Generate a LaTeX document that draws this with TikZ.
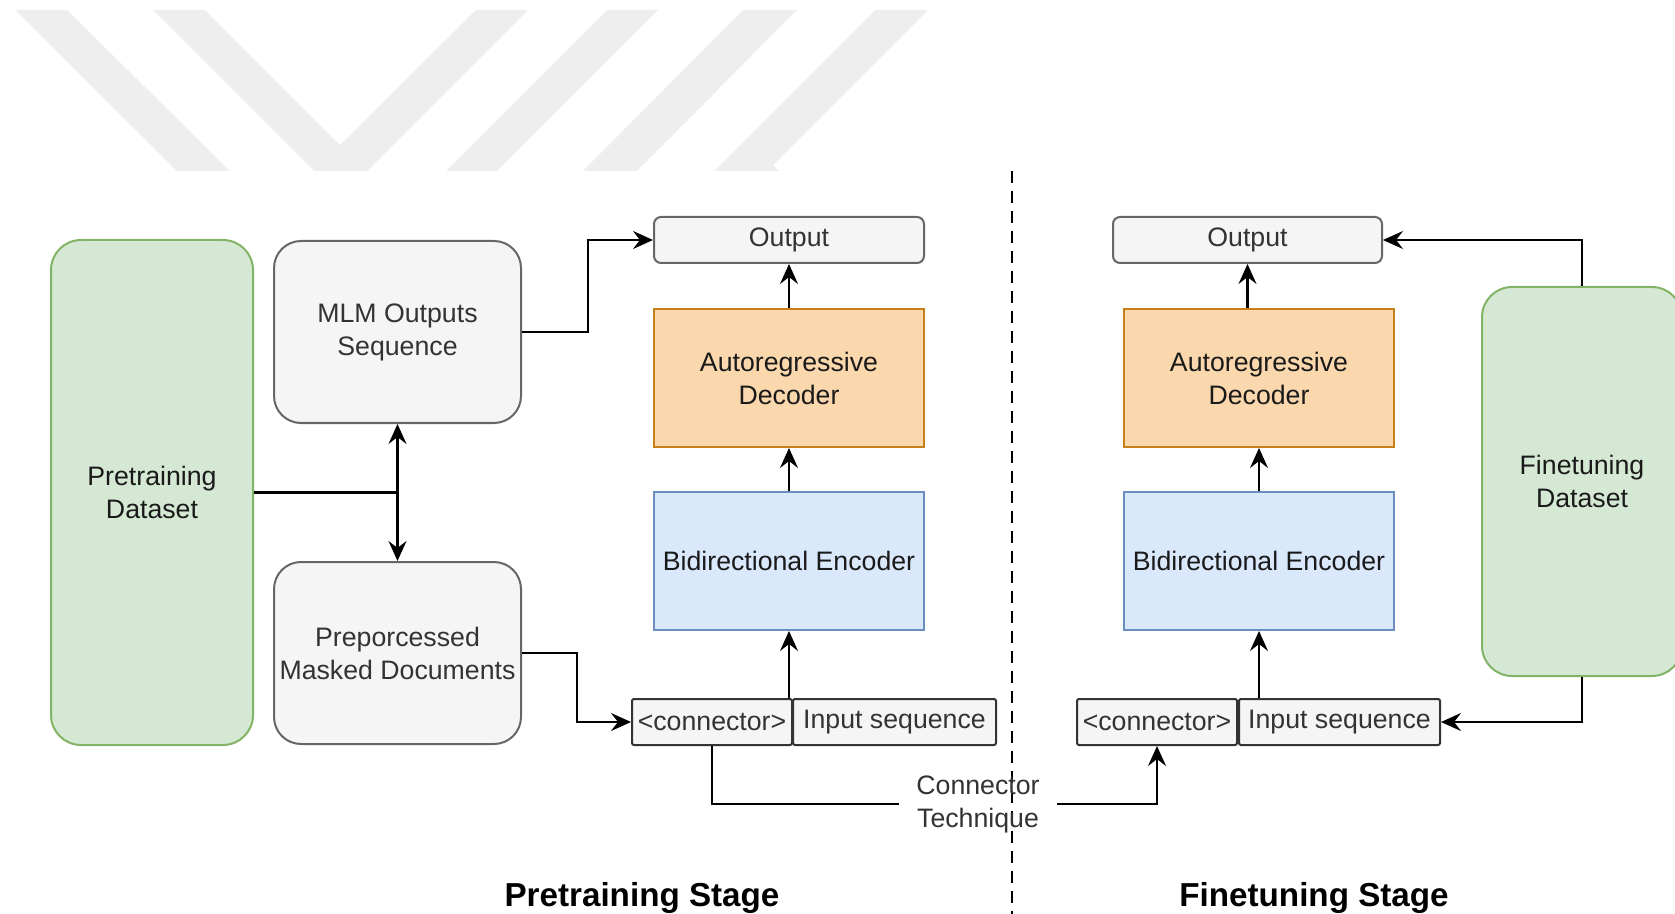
\documentclass[tikz,border=0pt]{standalone}
\usepackage{fontspec}
\setmainfont{Liberation Sans}
\usetikzlibrary{arrows.meta}
\definecolor{grnF}{HTML}{D5E8D4}
\definecolor{grnD}{HTML}{82B366}
\definecolor{gryF}{HTML}{F5F5F5}
\definecolor{gryD}{HTML}{666666}
\definecolor{gryT}{HTML}{333333}
\definecolor{orgF}{HTML}{FAD7AC}
\definecolor{orgD}{HTML}{C8801A}
\definecolor{bluF}{HTML}{DAE8FC}
\definecolor{bluD}{HTML}{6C8EBF}
\definecolor{wmC}{HTML}{EEEEEE}
\definecolor{txtD}{HTML}{1A1A1A}
\begin{document}
\begin{tikzpicture}[x=0.5pt,y=-0.5pt,
  base/.style={line width=1pt, font=\fontsize{13.35}{16.5}\selectfont, align=center, inner sep=0pt},
  greenbox/.style={base, draw=grnD, fill=grnF, text=txtD, rounded corners=15pt},
  graybox/.style={base, draw=gryD, fill=gryF, text=gryT, rounded corners=13.5pt},
  outbox/.style={base, draw=gryD, fill=gryF, text=gryT, rounded corners=3.5pt, minimum width=135pt, minimum height=23pt},
  decbox/.style={base, draw=orgD, fill=orgF, text=txtD, minimum width=135pt, minimum height=69pt},
  encbox/.style={base, draw=bluD, fill=bluF, text=txtD, minimum width=135pt, minimum height=69pt},
  seqbox/.style={base, draw=gryT, fill=gryF, text=gryT, rounded corners=1pt, minimum height=23pt},
  arr/.style={line width=1.1pt, -{Stealth[length=10pt,width=9pt,inset=3.5pt]}},
  ln/.style={line width=1.1pt},
  stagetitle/.style={font=\bfseries\fontsize{16.6}{20}\selectfont, text=black, inner sep=0pt}
]
\useasboundingbox (0,0) rectangle (1675,914);
\clip (0,0) rectangle (1675,914);

% watermark
\fill[wmC] (15,10) -- (67,10) -- (230,171) -- (177,171) -- cycle;
\fill[wmC] (153,10) -- (205,10) -- (340,145) -- (476,10) -- (528,10) -- (367,171) -- (314,171) -- cycle;
\fill[wmC] (607,10) -- (658,10) -- (497,171) -- (446,171) -- cycle;
\fill[wmC] (743,10) -- (797,10) -- (637,171) -- (583,171) -- cycle;
\fill[wmC] (875,10) -- (928,10) -- (773,165) -- (779,171) -- (714,171) -- cycle;

% dashed divider
\coordinate (dtop) at (1012,171);
\coordinate (dbot) at (1012,914);
\draw[line width=1pt, dash pattern=on 6pt off 4pt] (dtop) -- (dbot);

% pretraining side
\node[greenbox, minimum width=101pt, minimum height=252.5pt] (ptds) at (152,492.5) {Pretraining\\Dataset};
\node[graybox, minimum width=123.5pt, minimum height=91pt] (mlm) at (397.5,332) {MLM Outputs\\Sequence};
\node[graybox, minimum width=123.5pt, minimum height=91pt] (prep) at (397.5,653) {Preporcessed\\Masked Documents};
\node[outbox] (out1) at (789,240) {Output};
\node[decbox] (dec1) at (789,378) {Autoregressive\\Decoder};
\node[encbox] (enc1) at (789,561) {Bidirectional Encoder};
\node[seqbox, minimum width=80pt] (conn1) at (712,722) {<connector>};
\node[seqbox, minimum width=101.5pt] (inp1) at (894.5,722) {Input sequence};

% finetuning side
\node[outbox, minimum width=134.5pt] (out2) at (1247.5,240) {Output};
\node[decbox] (dec2) at (1259,378) {Autoregressive\\Decoder};
\node[encbox] (enc2) at (1259,561) {Bidirectional Encoder};
\node[seqbox, minimum width=80pt] (conn2) at (1157,722) {<connector>};
\node[seqbox, minimum width=100.5pt] (inp2) at (1339.5,722) {Input sequence};
\node[greenbox, minimum width=100pt, minimum height=194.5pt] (ftds) at (1582,481.5) {Finetuning\\Dataset};

% connector technique label
\node[base, text=gryT, inner sep=8pt] (ct) at (978,804) {Connector\\Technique};

% titles
\node[stagetitle] (t1) at (642,898) {Pretraining Stage};
\node[stagetitle] (t2) at (1314,898) {Finetuning Stage};

% helper coordinates
\coordinate (j) at (397.5,492.5);
\coordinate (b1) at (588,0);
\coordinate (b2) at (577,0);

% connectors pretraining
\draw[ln] (ptds.east) -- (j);
\draw[line width=1.1pt, {Stealth[length=10pt,width=9pt,inset=3.5pt]}-{Stealth[length=10pt,width=9pt,inset=3.5pt]}] (mlm.south) -- (prep.north);
\draw[arr] (mlm.east) -- (mlm.east -| b1) |- (out1.west);
\draw[arr] (prep.east) -- (prep.east -| b2) |- (conn1.west);
\draw[arr] (dec1.north) -- (out1.south);
\draw[arr] (enc1.north) -- (dec1.south);
\draw[arr] (enc1.south |- inp1.north) -- (enc1.south);
\draw[ln] (conn1.south) |- (ct.west);
\draw[arr] (ct.east) -| (conn2.south);

% connectors finetuning
\draw[arr] (ftds.north) |- (out2.east);
\draw[arr] (ftds.south) |- (inp2.east);
\draw[arr] (out2.south |- dec2.north) -- (out2.south);
\draw[arr] (enc2.north) -- (dec2.south);
\draw[arr] (enc2.south |- inp2.north) -- (enc2.south);
\end{tikzpicture}
\end{document}
